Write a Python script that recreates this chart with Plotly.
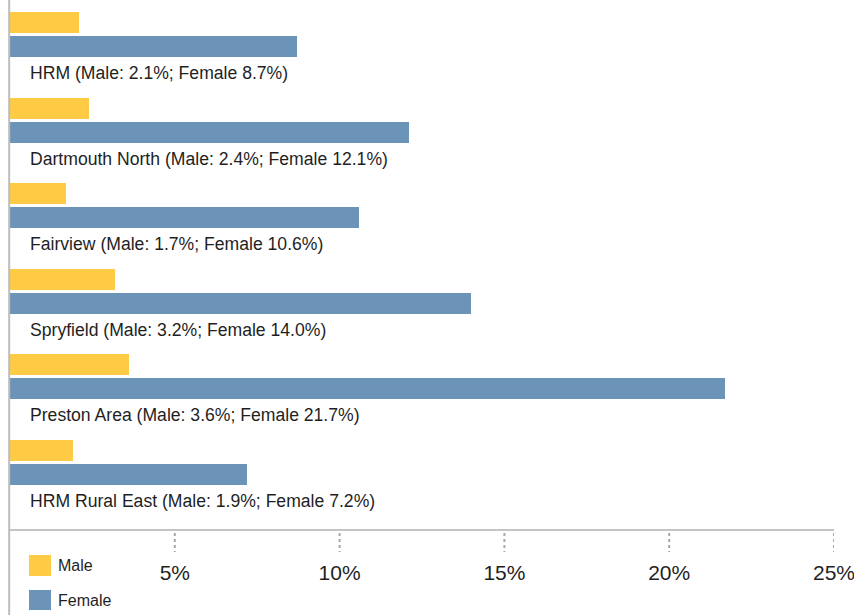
import plotly.graph_objects as go

regions = ["HRM", "Dartmouth North", "Fairview", "Spryfield", "Preston Area", "HRM Rural East"]
male = [2.1, 2.4, 1.7, 3.2, 3.6, 1.9]
female = [8.7, 12.1, 10.6, 14.0, 21.7, 7.2]
tick_vals = [5, 10, 15, 20, 25]
tick_text = ["5%", "10%", "15%", "20%", "25%"]
series_names = ["Male", "Female"]

YELLOW = "#FFCB45"
BLUE = "#6C93B8"
FONT = "Liberation Sans, Arial, sans-serif"
TEXT = "#1f1f1f"

W, H = 854, 615
ML, MR, MT, MB = 10, 20, 0, 86
plot_h = H - MT - MB

period_px = 85.5
first_center_px = 22.5
female_off = 24 / period_px
label_off = (73 - 22.5) / period_px
bar_w = 21 / period_px
y_top = -first_center_px / period_px
y_bot = y_top + plot_h / period_px

idx = list(range(len(regions)))

fig = go.Figure()
fig.add_trace(go.Bar(
    name=series_names[0], orientation="h", x=male, y=[i for i in idx],
    width=bar_w, marker=dict(color=YELLOW, line=dict(width=0)), showlegend=False,
    hovertemplate="%{x}%<extra>Male</extra>"))
fig.add_trace(go.Bar(
    name=series_names[1], orientation="h", x=female, y=[i + female_off for i in idx],
    width=bar_w, marker=dict(color=BLUE, line=dict(width=0)), showlegend=False,
    hovertemplate="%{x}%<extra>Female</extra>"))

annotations = []
for i, r in enumerate(regions):
    annotations.append(dict(
        x=0, y=i + label_off, xref="x", yref="y",
        text=f"{r} (Male: {male[i]:.1f}%; Female {female[i]:.1f}%)",
        showarrow=False, xanchor="left", yanchor="middle", xshift=18,
        font=dict(family=FONT, size=17.6, color=TEXT)))

shapes = []
# left vertical line spanning whole height
shapes.append(dict(type="line", xref="paper", yref="paper", x0=-0.001, x1=-0.001,
                   y0=-MB / plot_h, y1=1, line=dict(color="#bdbdbd", width=2)))
# dotted tick marks
for v in tick_vals:
    shapes.append(dict(type="line", xref="x", yref="paper", x0=v, x1=v,
                       y0=-4 / plot_h, y1=-23 / plot_h,
                       line=dict(color="#a8a8a8", width=2, dash="dot")))

# manual legend
legend_items = [(series_names[0], YELLOW, 555, 576), (series_names[1], BLUE, 590, 610)]
for name, col, top, bot in legend_items:
    y0p = (H - MB - bot) / plot_h
    y1p = (H - MB - top) / plot_h
    shapes.append(dict(type="rect", xref="paper", yref="paper",
                       x0=(29 - ML) / (W - ML - MR), x1=(51 - ML) / (W - ML - MR),
                       y0=y0p, y1=y1p, fillcolor=col, line=dict(width=0)))
    annotations.append(dict(x=(56 - ML) / (W - ML - MR), y=(y0p + y1p) / 2,
                            xref="paper", yref="paper", text=name, showarrow=False,
                            xanchor="left", yanchor="middle",
                            font=dict(family=FONT, size=16, color=TEXT)))

fig.update_layout(
    width=W, height=H,
    margin=dict(l=ML, r=MR, t=MT, b=MB, pad=0),
    paper_bgcolor="white", plot_bgcolor="white",
    barmode="overlay", bargap=0,
    showlegend=False,
    xaxis=dict(range=[0, 25], tickvals=tick_vals, ticktext=tick_text,
               showgrid=False, zeroline=False, showline=True,
               linecolor="#c4c4c4", linewidth=2,
               ticks="outside", ticklen=24, tickcolor="rgba(0,0,0,0)",
               tickfont=dict(family=FONT, size=21, color=TEXT),
               ticklabeloverflow="allow",
               automargin=False, fixedrange=True),
    yaxis=dict(range=[y_bot, y_top], showgrid=False, zeroline=False,
               showline=False, showticklabels=False, ticks="",
               automargin=False, fixedrange=True),
    annotations=annotations, shapes=shapes,
)

fig.write_html("out.html", config={"displayModeBar": False},
               post_script="document.body.style.margin='0px';document.body.style.overflow='hidden';")
